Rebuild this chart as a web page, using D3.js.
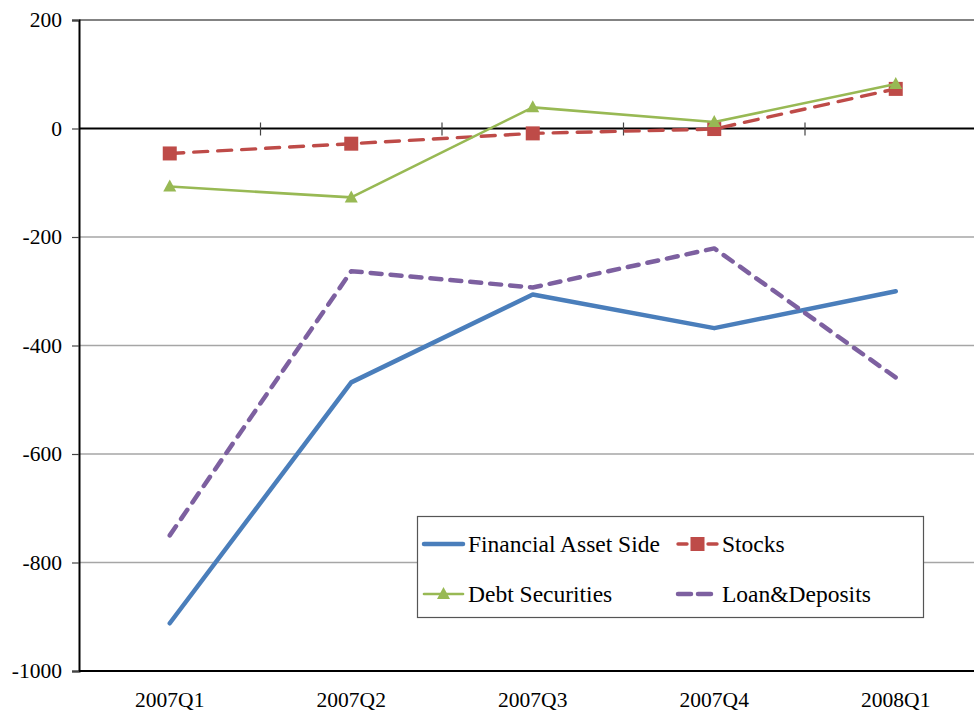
<!DOCTYPE html>
<html><head><meta charset="utf-8">
<script src="https://cdn.jsdelivr.net/npm/d3@7"></script>
<style>html,body{margin:0;padding:0;background:#fff;overflow:hidden}
svg text{font-family:"Liberation Serif","Times New Roman","DejaVu Serif",serif;}</style>
</head><body>
<svg id="c" width="974" height="714"></svg>
<script>
const categories = ["2007Q1","2007Q2","2007Q3","2007Q4","2008Q1"];
const financialAssetSide = [-912,-468,-306,-368,-300];
const stocks = [-46,-28,-9,-1,73];
const debtSecurities = [-107,-127,39,12,82];
const loanDeposits = [-750,-263,-293,-221,-459];
const yTicks = [200,0,-200,-400,-600,-800,-1000];

const svg = d3.select("#c");
const plotLeft = 79, plotTop = 20, plotBottom = 671, bandW = 181.5;
const x = d3.scaleBand().domain(categories).range([plotLeft, plotLeft + bandW*5]);
const y = d3.scaleLinear().domain([-1000,200]).range([plotBottom, plotTop]);

// gridlines
svg.append("g").selectAll("line").data(yTicks.filter(d=>d!==0 && d!==-1000)).join("line")
  .attr("x1", plotLeft).attr("x2", 974).attr("y1", d=>y(d)).attr("y2", d=>y(d))
  .attr("stroke", d=>d===200?"#5a5a5a":"#a6a6a6").attr("stroke-width", d=>d===200?1.6:1.3);
// bottom line
svg.append("line").attr("x1", plotLeft).attr("x2", 974).attr("y1", y(-1000)).attr("y2", y(-1000))
  .attr("stroke","#000").attr("stroke-width",2);

// y axis
const yAxis = d3.axisLeft(y).tickValues(yTicks).tickSize(7).tickPadding(10).tickFormat(d=>String(d));
const ya = svg.append("g").attr("transform",`translate(${plotLeft},0)`).call(yAxis);
ya.attr("font-family", null).attr("font-size", null);
ya.select(".domain").attr("stroke","#000").attr("stroke-width",2);
ya.selectAll(".tick line").attr("stroke","#444").attr("stroke-width",1.2);
ya.selectAll(".tick text").style("font-size","21.5px").attr("fill","#000");

// category axis at zero
const zeroY = y(0);
svg.append("line").attr("x1", plotLeft).attr("x2", 974).attr("y1", zeroY).attr("y2", zeroY)
  .attr("stroke","#000").attr("stroke-width",2);
svg.append("g").selectAll("line").data(categories.slice(1)).join("line")
  .attr("x1", d=>x(d)).attr("x2", d=>x(d)).attr("y1", zeroY-6).attr("y2", zeroY+7)
  .attr("stroke","#444").attr("stroke-width",1.2);

// category labels at bottom
svg.append("g").selectAll("text").data(categories).join("text")
  .attr("x", d=>x(d)+x.bandwidth()/2).attr("y", 707)
  .attr("text-anchor","middle").style("font-size","21.5px").text(d=>d);

const cx = d => x(d)+x.bandwidth()/2;
const line = d3.line().x((v,i)=>cx(categories[i])).y(v=>y(v));

const series = [
  {name:"Financial Asset Side", data:financialAssetSide, color:"#4a7ebb", w:4.5, dash:null, marker:null},
  {name:"Loan&Deposits", data:loanDeposits, color:"#7d60a0", w:4.5, dash:"11 9", marker:null},
  {name:"Stocks", data:stocks, color:"#be4b48", w:3.4, dash:"14 10", marker:"square"},
  {name:"Debt Securities", data:debtSecurities, color:"#98b954", w:2.6, dash:null, marker:"triangle"}
];

series.forEach(s=>{
  svg.append("path").datum(s.data).attr("d", line).attr("fill","none")
    .attr("stroke", s.color).attr("stroke-width", s.w).attr("stroke-linecap","round")
    .attr("stroke-linejoin","round").attr("stroke-dasharray", s.dash);
  if (s.marker==="square") {
    svg.append("g").selectAll("rect").data(s.data).join("rect")
      .attr("x",(v,i)=>cx(categories[i])-7).attr("y",v=>y(v)-7).attr("width",14).attr("height",14)
      .attr("fill",s.color);
  } else if (s.marker==="triangle") {
    svg.append("g").selectAll("path").data(s.data).join("path")
      .attr("d",(v,i)=>{const px=cx(categories[i]),py=y(v);return `M${px},${py-7}L${px+6.5},${py+5}L${px-6.5},${py+5}Z`;})
      .attr("fill",s.color);
  }
});

// legend
const lg = svg.append("g");
lg.append("rect").attr("x",417.5).attr("y",516.5).attr("width",506).attr("height",101)
  .attr("fill","#fff").attr("stroke","#555").attr("stroke-width",1.2);
const legendItems = [
  {s:series[0], lx:422, ly:544},
  {s:series[2], lx:676, ly:544},
  {s:series[3], lx:422, ly:594},
  {s:series[1], lx:676, ly:594}
];
legendItems.forEach(({s,lx,ly})=>{
  lg.append("line").attr("x1",lx+2).attr("x2",lx+41).attr("y1",ly).attr("y2",ly)
    .attr("stroke",s.color).attr("stroke-width",s.w).attr("stroke-linecap","round")
    .attr("stroke-dasharray", s.dash ? (s.name==="Stocks" ? "9 6" : "13 7") : null);
  if (s.marker==="square") lg.append("rect").attr("x",lx+14.5).attr("y",ly-7).attr("width",14).attr("height",14).attr("fill",s.color);
  if (s.marker==="triangle") lg.append("path").attr("d",`M${lx+21.5},${ly-7}L${lx+28},${ly+5}L${lx+15},${ly+5}Z`).attr("fill",s.color);
  lg.append("text").attr("x",lx+46).attr("y",ly+8).style("font-size","23.5px").text(s.name);
});
</script>
</body></html>
